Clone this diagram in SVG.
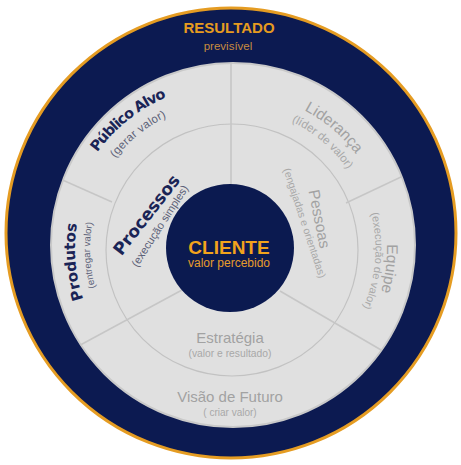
<svg xmlns="http://www.w3.org/2000/svg" width="461" height="465" viewBox="0 0 461 465">
  <style>
    .navyB { font-family: "DejaVu Sans", sans-serif; font-weight: 700; fill: #1a2456; }
    .navyS { font-family: "Liberation Sans", Arial, sans-serif; fill: #5d6278; }
    .gray { font-family: "Liberation Sans", Arial, sans-serif; fill: #a2a2a2; }
    .graySub { font-family: "Liberation Sans", Arial, sans-serif; fill: #a8a8a8; }
    .sep { stroke: #c6c6c6; stroke-width: 1.6; fill: none; }
  </style>
  <defs>
    <clipPath id="disc"><circle cx="233" cy="245" r="182"/></clipPath>
    <path id="r165" d="M231,414 A165,165 0 1 1 231,84 A165,165 0 1 1 231,414"/>
    <path id="r147" d="M231,396 A147,147 0 1 1 231,102 A147,147 0 1 1 231,396"/>
    <path id="r156" d="M231,405 A156,156 0 1 1 231,93 A156,156 0 1 1 231,405"/>
    <path id="r141" d="M231,390 A141,141 0 1 1 231,108 A141,141 0 1 1 231,390"/>
    <path id="r157" d="M231,406 A157,157 0 1 1 231,92 A157,157 0 1 1 231,406"/>
    <path id="r144" d="M231,393.5 A144.5,144.5 0 1 1 231,104.5 A144.5,144.5 0 1 1 231,393.5"/>
  </defs>

  <g id="outer-ring">
    <circle cx="231" cy="233" r="225" fill="#0c1a51" stroke="#e59c22" stroke-width="3"/>
    <text x="229" y="33" text-anchor="middle" font-family="Liberation Sans, Arial, sans-serif" font-weight="700" font-size="15" fill="#e69b1f">RESULTADO</text>
    <text x="228" y="50" text-anchor="middle" font-family="Liberation Sans, Arial, sans-serif" font-size="11.5" fill="#c88c3e">previsível</text>
  </g>

  <g id="disc-bg">
    <circle cx="233" cy="245" r="182" fill="#e0e0e0" stroke="#c9c9c9" stroke-width="2"/>
    <circle cx="232" cy="250" r="126" fill="none" stroke="#c2c2c2" stroke-width="1.2"/>
  </g>

  <g id="connectors" clip-path="url(#disc)">
    <line class="sep" x1="231" y1="55" x2="231" y2="185"/>
    <line class="sep" x1="40" y1="170" x2="112" y2="202"/>
    <line class="sep" x1="420" y1="168" x2="346" y2="203"/>
    <line class="sep" x1="60" y1="356" x2="182" y2="290"/>
    <line class="sep" x1="280" y1="291" x2="400" y2="361"/>
  </g>

  <g id="cliente">
    <circle cx="230" cy="248" r="64" fill="#0b1a50"/>
    <text x="229" y="254" text-anchor="middle" font-family="Liberation Sans, Arial, sans-serif" font-weight="700" font-size="19" fill="#f2a31c">CLIENTE</text>
    <text x="229" y="267" text-anchor="middle" font-family="Liberation Sans, Arial, sans-serif" font-size="12" fill="#e69c2c">valor percebido</text>
  </g>

  <g id="publico-alvo">
    <text class="navyB" font-size="14.5" letter-spacing="-1"><textPath href="#r165" startOffset="406.6" text-anchor="middle">Público Alvo</textPath></text>
    <text class="navyS" font-size="11.5" letter-spacing="0.3"><textPath href="#r147" startOffset="361.8" text-anchor="middle">(gerar valor)</textPath></text>
  </g>

  <g id="produtos">
    <text class="navyB" font-size="15"><textPath href="#r156" startOffset="232.2" text-anchor="middle">Produtos</textPath></text>
    <text class="navyS" font-size="9.6"><textPath href="#r141" startOffset="215.1" text-anchor="middle">(entregar valor)</textPath></text>
  </g>

  <g id="processos">
    <text class="navyB" font-size="17" text-anchor="middle" transform="translate(151,218.5) rotate(-52)">Processos</text>
    <text class="navyS" font-size="11" text-anchor="middle" transform="translate(163,228) rotate(-57)">(execução simples)</text>
  </g>

  <g id="lideranca">
    <text class="gray" font-size="15.5"><textPath href="#r157" startOffset="603.4" text-anchor="middle">Liderança</textPath></text>
    <text class="graySub" font-size="11.5"><textPath href="#r141" startOffset="542.6" text-anchor="middle">(líder de valor)</textPath></text>
  </g>

  <g id="pessoas">
    <text class="gray" font-size="15.5" text-anchor="middle" transform="translate(314.2,220) rotate(78.7)">Pessoas</text>
    <text class="graySub" font-size="10.4" text-anchor="middle" transform="translate(301.3,224.2) rotate(71.8)">(engajadas e orientadas)</text>
  </g>

  <g id="equipe">
    <text class="gray" font-size="15.5"><textPath href="#r156" startOffset="754.2" text-anchor="middle">Equipe</textPath></text>
    <text class="graySub" font-size="11"><textPath href="#r144" startOffset="692.8" text-anchor="middle">(execução de valor)</textPath></text>
  </g>

  <g id="estrategia">
    <text class="gray" x="230" y="343" text-anchor="middle" font-size="15">Estratégia</text>
    <text class="graySub" x="230" y="357" text-anchor="middle" font-size="10.3">(valor e resultado)</text>
  </g>

  <g id="visao">
    <text class="gray" x="230" y="402" text-anchor="middle" font-size="15">Visão de Futuro</text>
    <text class="graySub" x="230" y="416" text-anchor="middle" font-size="10">( criar valor)</text>
  </g>
</svg>
